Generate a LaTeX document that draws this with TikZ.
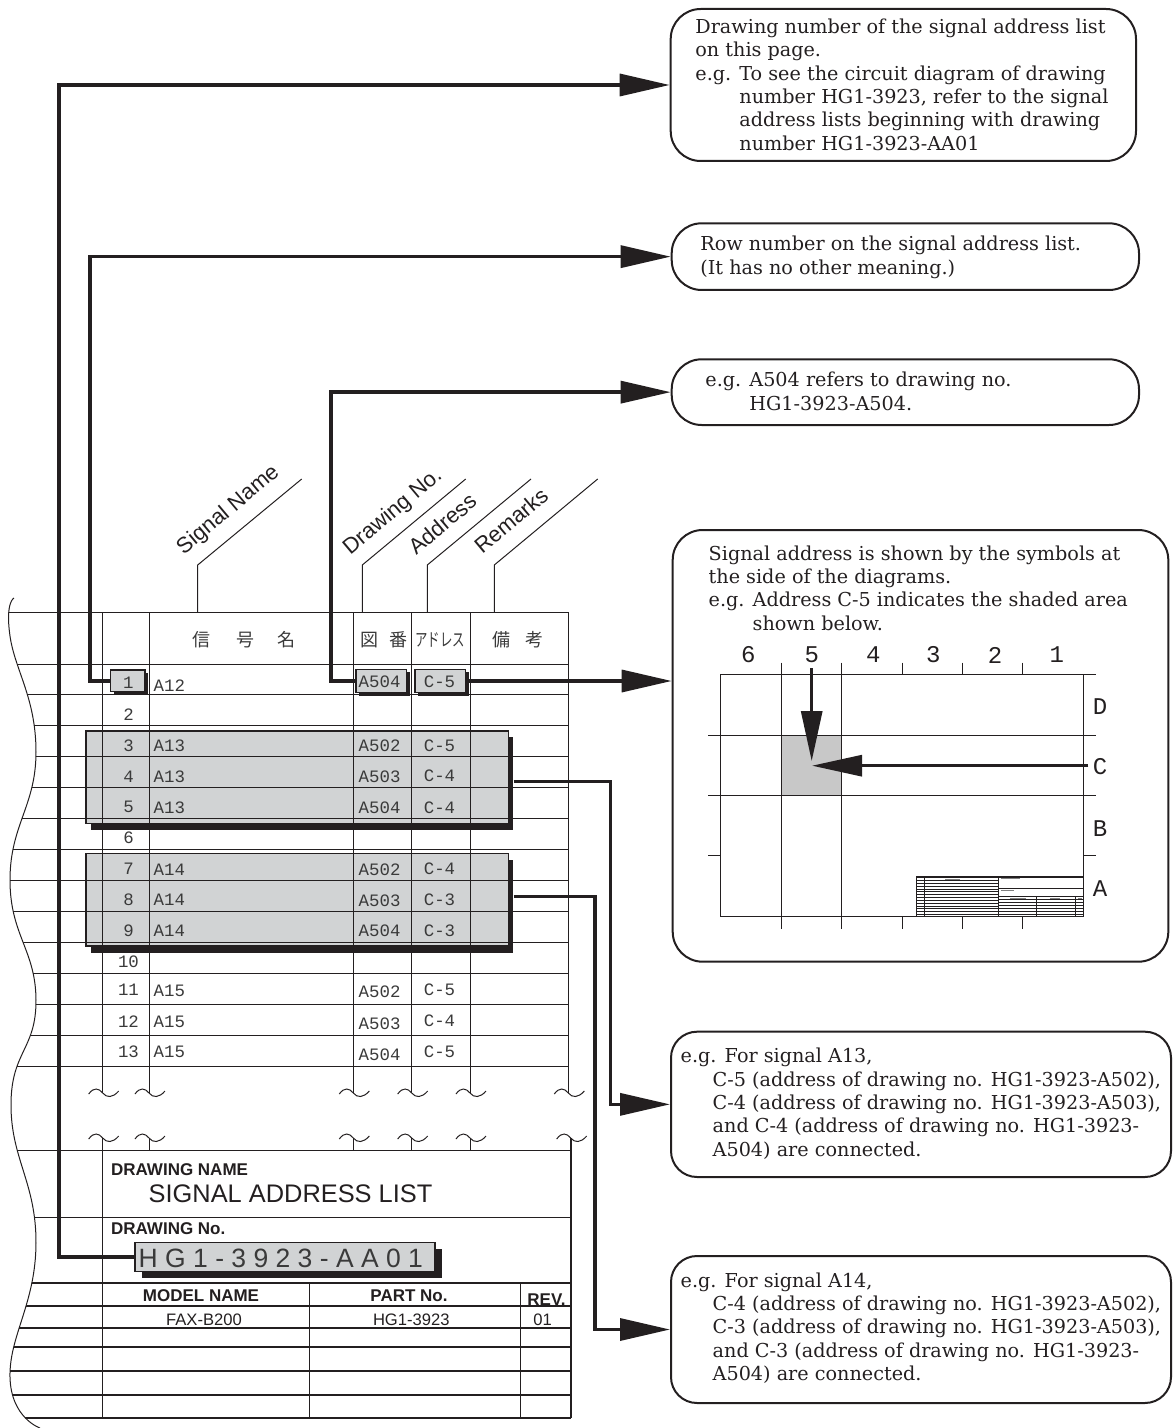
\documentclass[tikz,border=0pt]{standalone}
\usepackage{fontspec}
\usepackage{graphicx}
\setmainfont{DejaVu Serif}
\newfontfamily\sansf{Liberation Sans}
\newfontfamily\monof{Liberation Mono}
\newfontfamily\cjkf{Noto Sans CJK JP}
\usetikzlibrary{arrows.meta,fit}
\definecolor{ink}{HTML}{231F20}
\definecolor{boxgray}{HTML}{D1D3D4}
\definecolor{shadegray}{HTML}{C8C8C8}
\definecolor{tabtext}{HTML}{3A3A3A}
\newcommand\tildemark[2]{\draw[gridline] (#1-14,#2+1) .. controls (#1-9,#2-6) and (#1-4,#2-5) .. (#1,#2) .. controls (#1+4,#2+5) and (#1+10,#2+5) .. (#1+16,#2-2);}
\begin{document}
\begin{tikzpicture}[x=0.5pt,y=-0.5pt,
  gridline/.style={draw=ink,line width=0.5pt},
  lowline/.style={draw=ink,line width=0.85pt},
  conn/.style={draw=ink,line width=1.7pt},
  arr/.style={conn,-{Triangle[length=25pt,width=11pt]}},
  marr/.style={draw=ink,line width=1.5pt,-{Triangle[length=25pt,width=10.5pt]}},
  callout/.style={draw=ink,line width=1pt,rounded corners=15pt,inner sep=0pt},
  graybox/.style={draw=ink,fill=boxgray,line width=0.6pt,inner sep=0pt},
  shadowbox/.style={fill=ink,inner sep=0pt},
  note/.style={inner sep=0pt,anchor=base west,text=ink,font=\fontsize{9.6}{11.7}\selectfont},
  cell/.style={inner sep=0pt,text=tabtext,font=\monof\fontsize{8.7}{10}\selectfont},
  hdr/.style={inner sep=0pt,text=tabtext,font=\cjkf\fontsize{9}{10}\selectfont},
  slant/.style={inner sep=0pt,anchor=base west,rotate=40,text=ink,font=\sansf\fontsize{11}{12}\selectfont},
  blockb/.style={inner sep=0pt,text=ink,font=\sansf\bfseries\fontsize{8.5}{10}\selectfont},
  blockr/.style={inner sep=0pt,text=ink,font=\sansf\fontsize{8.3}{10}\selectfont},
  axis/.style={inner sep=0pt,text=ink,font=\monof\fontsize{12}{14}\selectfont},
]
\useasboundingbox (0,0) rectangle (1172,1428);

% ---------- shadows and gray boxes (under the grid) ----------
\node[shadowbox,fit={(91,737) (513.3,830)}] (g1s) {};
\node[graybox,fit={(86,731) (508.3,823.3)}] (g1) {};
\node[shadowbox,fit={(91,859.5) (513.3,952.7)}] (g2s) {};
\node[graybox,fit={(86,853.3) (508.3,946)}] (g2) {};
\node[shadowbox,fit={(114,673) (148.3,694.5)}] (r1s) {};
\node[graybox,fit={(110.7,670) (145,691.7)}] (r1) {};
\node[shadowbox,fit={(359.3,672) (410,695.5)}] (a504s) {};
\node[graybox,fit={(356,669.3) (406.7,692.7)}] (a504) {};
\node[shadowbox,fit={(418.3,672) (469,695.5)}] (c5bs) {};
\node[graybox,fit={(415,669.3) (465.7,692.7)}] (c5b) {};
\node[shadowbox,fit={(141.5,1248.5) (441.7,1278)}] (hgs) {};
\node[graybox,fit={(135,1242.3) (435,1271.7)}] (hg) {};

% ---------- horizontal lines clipped by the torn left edge ----------
\begin{scope}
\clip plot[smooth,tension=0.8] coordinates {(14,598) (10,636) (36,752) (10,880) (36,1000) (11,1105) (36,1243) (10,1377) (40,1428)} -- (700,1428) -- (700,590) -- cycle;
\draw[gridline] (0,612) -- (568.3,612);
\foreach \k in {0,...,13} \draw[gridline] (0,664+30.95*\k) -- (568.3,664+30.95*\k);
\foreach \yy in {1150.7,1217.3} \draw[gridline,line width=0.7pt] (0,\yy) -- (570.7,\yy);
\foreach \yy in {1282.7,1306,1328,1347,1371,1395,1418.3} \draw[lowline] (0,\yy) -- (570.7,\yy);
\end{scope}
\draw[gridline] plot[smooth,tension=0.8] coordinates {(14,598) (10,636) (36,752) (10,880) (36,1000) (11,1105) (36,1243) (10,1377) (40,1428)};

% ---------- vertical lines of the list ----------
\foreach \xx in {102.7,149,353.3,411.7,470,568.3} {
  \draw[gridline] (\xx,612) -- (\xx,1093);
  \tildemark{\xx}{1093}
}
\foreach \xx in {102.7,149,353.3,411.7,470,570.7} \tildemark{\xx}{1138}
\draw[gridline,line width=0.75pt] (102.7,1138) -- (102.7,1418.3);
\foreach \xx in {149,353.3,411.7,470} \draw[gridline] (\xx,1138) -- (\xx,1150.7);
\draw[lowline] (570.7,1138) -- (570.7,1418.3);
\draw[gridline,line width=0.7pt] (309.3,1282.7) -- (309.3,1418.3);
\draw[gridline,line width=0.7pt] (520.7,1282.7) -- (520.7,1418.3);

% ---------- column leaders and slanted labels ----------
\draw[gridline] (197.7,612) -- (197.7,565) -- (301.7,479);
\draw[gridline] (362.3,612) -- (362.3,565) -- (465.7,479);
\draw[gridline] (427.3,612) -- (427.3,565) -- (531,479);
\draw[gridline] (494.3,612) -- (494.3,565) -- (597.7,479);
\node[slant] (lsig) at (183.5,555.5) {Signal Name};
\node[slant] (ldwg) at (350,555.5) {Drawing No.};
\node[slant] (ladr) at (416,556) {Address};
\node[slant] (lrem) at (482,555) {Remarks};

% ---------- header (Japanese) ----------
\node[hdr] (h1) at (201.7,640) {信};
\node[hdr] (h2) at (245,640) {号};
\node[hdr] (h3) at (286.5,640) {名};
\node[hdr] (h4) at (369.3,640) {図};
\node[hdr] (h5) at (398.3,640) {番};
\node[hdr] (h6) at (440,640) {\scalebox{0.69}[1]{アドレス}};
\node[hdr] (h7) at (501,640) {備};
\node[hdr] (h8) at (534,640) {考};

% ---------- rows ----------
\node[cell] (n1) at (128.3,683) {1};
\node[cell,anchor=west] (s1) at (153.3,685.5) {A12};
\node[cell,anchor=west] (d1) at (358.3,681.5) {A504};
\node[cell] (a1) at (439.5,681.5) {C-5};
\node[cell] (n2) at (128.5,714.45) {2};
\node[cell] (n3) at (128.5,745.4) {3};
\node[cell,anchor=west] (s3) at (153.3,746) {A13};
\node[cell,anchor=west] (d3) at (358.3,745.4) {A502};
\node[cell] (a3) at (439.5,745.4) {C-5};
\node[cell] (n4) at (128.5,776.35) {4};
\node[cell,anchor=west] (s4) at (153.3,777) {A13};
\node[cell,anchor=west] (d4) at (358.3,776.8) {A503};
\node[cell] (a4) at (439.5,775.8) {C-4};
\node[cell] (n5) at (128.5,807.3) {5};
\node[cell,anchor=west] (s5) at (153.3,808) {A13};
\node[cell,anchor=west] (d5) at (358.3,807.3) {A504};
\node[cell] (a5) at (439.5,807.3) {C-4};
\node[cell] (n6) at (128.5,838.25) {6};
\node[cell] (n7) at (128.5,869.2) {7};
\node[cell,anchor=west] (s7) at (153.3,869.8) {A14};
\node[cell,anchor=west] (d7) at (358.3,869.5) {A502};
\node[cell] (a7) at (439.5,868.5) {C-4};
\node[cell] (n8) at (128.5,900.15) {8};
\node[cell,anchor=west] (s8) at (153.3,900.2) {A14};
\node[cell,anchor=west] (d8) at (358.3,900.8) {A503};
\node[cell] (a8) at (439.5,899.5) {C-3};
\node[cell] (n9) at (128.5,931.1) {9};
\node[cell,anchor=west] (s9) at (153.3,931.1) {A14};
\node[cell,anchor=west] (d9) at (358.3,931.1) {A504};
\node[cell] (a9) at (439.5,930.5) {C-3};
\node[cell] (n10) at (128.5,962) {10};
\node[cell] (n11) at (128.5,990) {11};
\node[cell,anchor=west] (s11) at (153.3,990.5) {A15};
\node[cell,anchor=west] (d11) at (358.3,991.7) {A502};
\node[cell] (a11) at (439.5,989.3) {C-5};
\node[cell] (n12) at (128.5,1021.5) {12};
\node[cell,anchor=west] (s12) at (153.3,1021.5) {A15};
\node[cell,anchor=west] (d12) at (358.3,1023.3) {A503};
\node[cell] (a12) at (439.5,1021) {C-4};
\node[cell] (n13) at (128.5,1051.7) {13};
\node[cell,anchor=west] (s13) at (153.3,1051.7) {A15};
\node[cell,anchor=west] (d13) at (358.3,1054.3) {A504};
\node[cell] (a13) at (439.5,1051.7) {C-5};

% ---------- title block ----------
\node[blockb,anchor=west] (dnl) at (110.7,1169.3) {DRAWING NAME};
\node[inner sep=0pt,anchor=west,text=ink,font=\sansf\fontsize{12.7}{14}\selectfont] (dnv) at (148.3,1194) {SIGNAL ADDRESS LIST};
\node[blockb,anchor=west] (dnol) at (110.7,1229) {DRAWING No.};
\node[inner sep=0pt,anchor=west,text=tabtext,font=\sansf\fontsize{13.25}{15}\selectfont] (dnov) at (138.3,1258.3) {H G 1 - 3 9 2 3 - A A 0 1};
\node[blockb] (mnl) at (201,1296) {MODEL NAME};
\node[blockb] (pnl) at (409,1296) {PART No.};
\node[blockb] (rvl) at (546.5,1299.3) {REV.};
\node[blockr] (mnv) at (204,1319.3) {FAX-B200};
\node[blockr] (pnv) at (411.3,1320) {HG1-3923};
\node[blockr] (rvv) at (542.5,1319.3) {01};

% ---------- callout boxes ----------
\node[callout,fit={(670.7,9) (1136,161)}] (box1) {};
\node[callout,fit={(671.7,223.3) (1139,290)}] (box2) {};
\node[callout,fit={(671.7,359.3) (1139,425)}] (box3) {};
\node[callout,fit={(672.7,530) (1168.3,961.7)}] (box4) {};
\node[callout,rounded corners=13pt,fit={(671,1031.7) (1171,1177)}] (box5) {};
\node[callout,rounded corners=13pt,fit={(671,1256) (1171,1403)}] (box6) {};

\node[note] (t1) at (695,33.3) {\begin{tabular}[t]{@{}l@{}}Drawing number of the signal address list\\on this page.\\e.g. To see the circuit diagram of drawing\\\phantom{e.g. }number HG1-3923, refer to the signal\\\phantom{e.g. }address lists beginning with drawing\\\phantom{e.g. }number HG1-3923-AA01\end{tabular}};
\node[note,font=\fontsize{9.6}{12.1}\selectfont] (t2) at (700,250.7) {\begin{tabular}[t]{@{}l@{}}Row number on the signal address list.\\(It has no other meaning.)\end{tabular}};
\node[note] (t3) at (705,386.7) {\begin{tabular}[t]{@{}l@{}}e.g. A504 refers to drawing no.\\\phantom{e.g. }HG1-3923-A504.\end{tabular}};
\node[note] (t4) at (708.3,560) {\begin{tabular}[t]{@{}l@{}}Signal address is shown by the symbols at\\the side of the diagrams.\\e.g. Address C-5 indicates the shaded area\\\phantom{e.g. }shown below.\end{tabular}};
\node[note] (t5) at (680.3,1062.7) {\begin{tabular}[t]{@{}l@{}}e.g. For signal A13,\\\hspace*{16pt}C-5 (address of drawing no. HG1-3923-A502),\\\hspace*{16pt}C-4 (address of drawing no. HG1-3923-A503),\\\hspace*{16pt}and C-4 (address of drawing no. HG1-3923-\\\hspace*{16pt}A504) are connected.\end{tabular}};
\node[note] (t6) at (680.3,1287) {\begin{tabular}[t]{@{}l@{}}e.g. For signal A14,\\\hspace*{16pt}C-4 (address of drawing no. HG1-3923-A502),\\\hspace*{16pt}C-3 (address of drawing no. HG1-3923-A503),\\\hspace*{16pt}and C-3 (address of drawing no. HG1-3923-\\\hspace*{16pt}A504) are connected.\end{tabular}};

% ---------- address example drawing ----------
\fill[shadegray] (781,735) rectangle (841.7,795.3);
\draw[gridline] (720.7,674.3) rectangle (1083.3,916.7);
\foreach \xx in {781,841.7} \draw[gridline] (\xx,662.7) -- (\xx,929.3);
\foreach \xx in {902.3,962.7,1022.7} {\draw[gridline] (\xx,662.7) -- (\xx,674.3); \draw[gridline] (\xx,916.7) -- (\xx,929.3);}
\foreach \yy in {735,795.3} \draw[gridline] (708.3,\yy) -- (1095.7,\yy);
\draw[gridline] (1083.3,674.3) -- (1095.7,674.3);
\draw[gridline] (708.3,855.7) -- (720.7,855.7);
\draw[gridline] (1083.3,855.7) -- (1095.7,855.7);
% miniature title block
\draw[gridline,line width=0.7pt] (916.7,877) rectangle (1083.3,916.7);
\draw[gridline,line width=0.7pt] (998.3,877) -- (998.3,916.7);
\draw[gridline,line width=0.3pt] (924,877) -- (924,916.7);
\foreach \k in {0,...,12} \draw[gridline,line width=0.35pt] (916.7,880.3+2.85*\k) -- (998.3,880.3+2.85*\k);
\draw[gridline,line width=0.35pt] (998.3,888) -- (1083.3,888);
\draw[gridline,line width=0.5pt] (998.3,896.3) -- (1083.3,896.3);
\foreach \k in {0,...,5} \draw[gridline,line width=0.35pt] (998.3,899.6+3*\k) -- (1083.3,899.6+3*\k);
\draw[gridline,line width=0.5pt] (1036.7,896.3) -- (1036.7,916.7);
\draw[gridline,line width=0.5pt] (1075.7,896.3) -- (1075.7,916.7);
\foreach \a/\b/\c in {945/960/879, 1001/1020/878.7, 1001/1014/890.3, 1010/1026/898, 1050/1060/898, 1078/1082/898}
  \draw[gray,line width=0.4pt] (\a,\c) -- (\b,\c);
\node[axis] (x6) at (748.3,655) {6};
\node[axis] (x5) at (811.7,655) {5};
\node[axis] (x4) at (873.3,655) {4};
\node[axis] (x3) at (933.3,655) {3};
\node[axis] (x2) at (995,655) {2};
\node[axis] (x1) at (1056.7,655) {1};
\node[axis] (yD) at (1100,706.7) {D};
\node[axis] (yC) at (1100,766.7) {C};
\node[axis] (yB) at (1100,828.3) {B};
\node[axis] (yA) at (1100,888.3) {A};
\coordinate (m5a) at (811.7,668);
\coordinate (m5b) at (811.7,761);
\coordinate (mCa) at (1088.3,765.7);
\coordinate (mCb) at (812,765.7);
\draw[marr] (m5a) -- (m5b);
\draw[marr] (mCa) -- (mCb);

% ---------- connectors ----------
\coordinate (c1) at (59,85);
\coordinate (c2) at (90,256.65);
\coordinate (c3) at (331,392.15);
\coordinate (c5) at (610.5,1104.35);
\coordinate (c6) at (595,1329.5);
\draw[arr] (hg.west) -| (c1) -- (box1.west);
\draw[arr] (r1.west) -| (c2) -- (box2.west);
\draw[arr] (a504.west) -| (c3) -- (box3.west);
\draw[arr] (c5b.east) -- (c5b.east -| box4.west);
\draw[arr] ([yshift=0.9pt]g1s.east) -| (c5) -- (box5.west);
\draw[arr] ([yshift=4.7pt]g2s.east) -| (c6) -- (box6.west);
\end{tikzpicture}
\end{document}
